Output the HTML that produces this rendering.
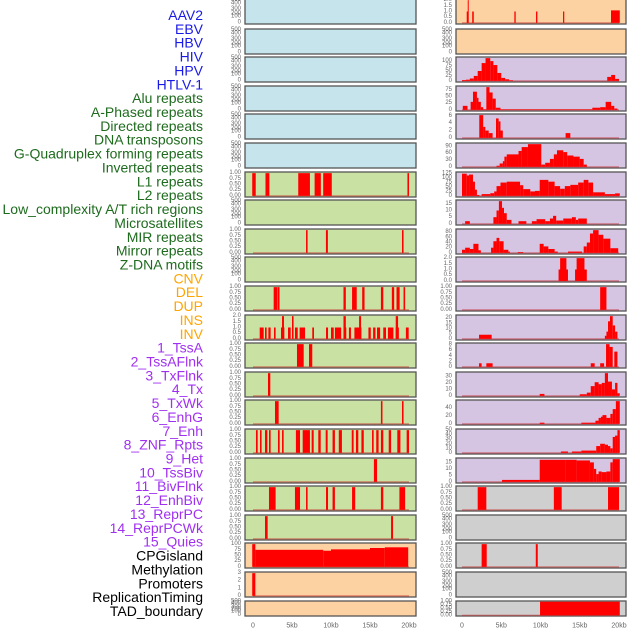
<!DOCTYPE html>
<html><head><meta charset="utf-8"><style>
body{margin:0;background:#fff;}
svg{display:block;font-family:"Liberation Sans",sans-serif;}
</style></head><body>
<svg id="chart" width="630" height="630" viewBox="0 0 630 630" xmlns="http://www.w3.org/2000/svg"></svg>
<script>
const NS="http://www.w3.org/2000/svg";
const trackNames=["AAV2","EBV","HBV","HIV","HPV","HTLV-1","Alu repeats","A-Phased repeats","Directed repeats","DNA transposons","G-Quadruplex forming repeats","Inverted repeats","L1 repeats","L2 repeats","Low_complexity A/T rich regions","Microsatellites","MIR repeats","Mirror repeats","Z-DNA motifs","CNV","DEL","DUP","INS","INV","1_TssA","2_TssAFlnk","3_TxFlnk","4_Tx","5_TxWk","6_EnhG","7_Enh","8_ZNF_Rpts","9_Het","10_TssBiv","11_BivFlnk","12_EnhBiv","13_ReprPC","14_ReprPCWk","15_Quies","CPGisland","Methylation","Promoters","ReplicationTiming","TAD_boundary"];
const labelColors=["#1a1ae6","#1a1ae6","#1a1ae6","#1a1ae6","#1a1ae6","#1a1ae6","#1e6b1e","#1e6b1e","#1e6b1e","#1e6b1e","#1e6b1e","#1e6b1e","#1e6b1e","#1e6b1e","#1e6b1e","#1e6b1e","#1e6b1e","#1e6b1e","#1e6b1e","#ffa500","#ffa500","#ffa500","#ffa500","#ffa500","#a030f0","#a030f0","#a030f0","#a030f0","#a030f0","#a030f0","#a030f0","#a030f0","#a030f0","#a030f0","#a030f0","#a030f0","#a030f0","#a030f0","#a030f0","#000","#000","#000","#000","#000"];
const xTickLabels=["0","5kb","10kb","15kb","20kb"];
const xTickValues=[0,5,10,15,20];
// per-panel y-axis: "E" empty, "B" binary, or max data value D
const panelMax=["E","E","E","E","E","E","B","E","B","E","B",2,"B","B","B","B","B","B","B",100,3,"E",
2,"E",115,85,6.2,100,128,17,88,2,"B",22,8.2,35,57,50,17.5,"B","E","B","E","B"];
const panelTicks=[[],[],[],[],[],[],[],[],[],[],[],[0,0.5,1,1.5,2],[],[],[],[],[],[],[],[0,25,50,75,100],[0,1,2,3],[],
[0,0.5,1,1.5,2],[],[0,25,50,75,100],[0,25,50,75],[0,2,4,6],[0,30,60,90],[0,25,50,75,100,125],[0,5,10,15],[0,20,40,60,80],[0,0.5,1,1.5,2],[],[0,5,10,15,20],[0,2,4,6,8],[0,10,20,30],[0,20,40],[0,10,20,30,40,50],[0,5,10,15],[],[],[],[],[]];
// segments per panel: [startKb, endKb, value]
const segs=[
[],[],[],[],[],[],
[[-0.1,0.35,1],[1.6,2.1,1],[5.8,7.3,1],[7.9,8.7,1],[9.0,10.1,1],[19.8,20.0,1]],
[],
[[6.8,7.0,1],[9.35,9.6,1],[19.1,19.3,1]],
[],
[[2.65,3.1,1],[3.15,3.4,1],[11.6,11.9,1],[12.7,13.3,1],[14.0,14.3,1],[16.4,16.7,1],[17.8,18.1,1],[18.4,18.8,1],[19.3,19.5,1]],
[[0.86,1.37,1],[1.54,1.75,1],[1.97,2.26,1],[2.69,2.9,1],[3.59,4.02,1],[4.49,4.83,1],[5.38,5.73,1],[5.98,6.67,1],[7.6,7.82,1],[9.36,9.62,1],[10.0,10.35,1],[10.5,11.3,1],[11.7,11.96,1],[12.3,12.56,1],[13.0,13.9,1],[14.8,15.1,1],[15.4,15.7,1],[15.9,16.3,1],[16.7,17.05,1],[17.3,18.0,1],[18.3,18.7,1],[19.6,19.96,1],[3.72,3.97,2],[5.0,5.2,2],[11.6,11.9,2],[13.6,13.85,2],[18.3,18.6,2]],
[[5.64,6.5,1],[7.18,7.6,1]],
[[1.92,2.22,1]],
[[2.82,3.29,1],[16.4,16.6,1],[19.1,19.3,1]],
[[0.38,0.6,1],[0.9,1.1,1],[1.54,1.84,1],[2.05,2.26,1],[3.2,3.42,1],[3.72,3.93,1],[5.5,6.03,1],[6.37,7.3,1],[7.52,7.78,1],[8.37,8.68,1],[9.32,9.57,1],[10.2,10.5,1],[11.0,11.4,1],[12.66,12.9,1],[13.2,13.5,1],[13.9,14.2,1],[15.26,15.47,1],[15.8,16.1,1],[16.4,16.7,1],[17.4,17.7,1],[18.5,18.9,1],[19.7,20.0,1]],
[[15.5,15.9,1]],
[[2.05,2.9,1],[5.38,6.03,1],[6.8,7.0,1],[9.36,9.62,1],[10.2,10.5,1],[12.7,13.1,1],[16.4,16.7,1],[18.77,19.5,1]],
[[1.54,1.88,1],[17.7,17.95,1]],
[[-0.1,0.3,100],[0.3,9.0,75],[9.0,10.0,71],[10.0,15.0,77],[15.0,16.9,83],[16.9,19.9,86]],
[[-0.1,0.3,3]],
[],
[[0.6,0.8,1],[0.73,0.85,2],[1.3,1.5,1],[6.67,6.84,1],[9.43,9.6,1],[12.87,13.03,1],[18.98,20.1,1.1]],
[],
[[0,0.5,4],[0.5,1,6],[1,1.5,12],[1.5,2,25],[2,2.5,50],[2.5,3,90],[3,3.6,115],[3.6,4,100],[4,4.5,80],[4.5,5,40],[5,5.5,15],[5.5,6,8],[6,6.5,3],[18.5,19,20],[19,19.5,30],[19.5,20,10]],
[[0.1,0.7,15],[1.1,1.4,30],[1.4,1.9,68],[1.9,2.1,45],[2.1,2.4,30],[2.4,2.7,10],[2.7,3.1,2],[3.1,3.5,85],[3.5,3.9,65],[3.9,4.3,42],[4.3,4.9,8],[4.9,16.6,2],[16.6,17.6,8],[17.6,18.3,10],[18.3,19.0,30],[19.0,19.4,15],[19.4,19.8,5]],
[[2.2,2.7,6.2],[2.7,2.97,3],[2.97,3.4,2],[3.4,3.9,1.3],[4.33,4.67,5.3],[4.67,4.9,4.5],[4.9,5.2,2],[13.2,13.8,1.3]],
[[4.4,4.8,5],[4.8,5.2,15],[5.2,5.4,25],[5.4,5.7,45],[5.7,7.2,55],[7.2,7.6,70],[7.6,8.4,87],[8.4,10.1,100],[10.1,10.6,10],[10.6,11.2,18],[11.2,11.7,35],[11.7,12.1,55],[12.1,12.9,73],[12.9,13.4,65],[13.4,14.2,50],[14.2,15.0,45],[15.0,15.5,35],[15.5,15.9,10]],
[[0,0.6,125],[0.6,0.9,115],[0.9,1.4,120],[1.4,1.65,80],[1.65,1.9,35],[1.9,2.2,5],[2.5,3.6,10],[3.6,4.1,15],[4.1,4.4,25],[4.4,4.9,55],[4.9,5.7,75],[5.7,7.4,80],[7.4,7.8,60],[7.8,8.7,38],[8.7,9.3,25],[9.3,9.9,28],[9.9,11.0,90],[11.0,11.8,80],[11.8,12.5,55],[12.5,13.1,40],[13.1,13.8,55],[13.8,14.8,62],[14.8,15.5,75],[15.5,16.1,90],[16.1,16.7,75],[16.7,18.2,20],[18.2,19.5,10],[19.5,20.1,14]],
[[0.4,1.0,2],[4.0,4.4,5],[4.4,4.7,10],[4.7,5.1,17],[5.1,5.35,12],[5.35,5.7,8],[5.7,6.3,3],[7.2,8.2,2],[8.9,9.5,2],[9.5,10.6,3.5],[10.6,11.2,2],[11.2,11.6,4],[11.6,12.0,6],[12.0,12.9,2.5],[12.9,14.0,4],[14.0,14.5,5],[14.5,14.8,3],[14.8,15.9,4]],
[[0,0.4,12],[0.4,1.0,20],[1.0,1.45,15],[1.45,2.1,35],[2.1,2.4,10],[3.7,4.0,20],[4.0,4.4,45],[4.4,4.75,58],[4.75,5.3,45],[5.3,5.9,12],[5.9,6.1,5],[7.1,7.8,3],[9.9,10.4,35],[10.4,11.0,25],[11.0,11.8,15],[11.8,12.2,5],[13.5,15.3,5],[15.5,15.9,25],[15.9,16.3,40],[16.3,16.7,75],[16.7,17.4,88],[17.4,18.0,70],[18.0,18.9,55],[18.9,19.9,18]],
[[12.3,13.5,1],[12.5,13.3,2],[14.4,15.9,1],[14.6,15.6,2]],
[[17.6,18.4,1]],
[[2.17,3.78,4],[18.2,18.4,3],[18.4,18.6,7],[18.6,18.85,17],[18.85,19.2,22],[19.2,19.5,13],[19.5,19.8,7]],
[[2.17,2.5,1.3],[3.1,3.9,1.3],[16.4,16.9,1.3],[17.6,18.1,1.3],[18.35,18.8,8.2],[18.8,19.2,7.2],[19.4,19.8,5.5]],
[[9.9,10.5,3],[15.0,15.9,2.5],[15.9,16.4,5],[16.4,16.9,15],[16.9,17.4,21],[17.4,17.8,18],[17.8,18.2,20],[18.2,18.6,35],[18.6,19.1,22],[19.1,19.5,10],[19.5,19.8,20],[19.8,20.1,4]],
[[9.9,10.5,3],[15.2,17.0,3],[17.0,17.4,8],[17.4,17.7,15],[17.7,17.9,18],[17.9,18.4,22],[18.4,18.9,15],[18.9,19.2,25],[19.2,19.6,37],[19.6,20.1,57]],
[[12.6,13.5,3],[14.0,15.2,3],[15.2,17.1,5],[17.1,17.6,15],[17.6,18.2,20],[18.2,18.6,18],[18.6,18.9,15],[18.9,19.2,10],[19.2,19.5,35],[19.5,19.8,38],[19.8,20.1,50]],
[[5.1,9.9,1.5],[9.9,13.2,17],[13.2,14.6,17],[14.6,16.3,16.5],[16.3,16.8,15],[16.8,17.1,10],[17.1,17.4,6],[17.4,17.8,8],[17.8,18.4,7.5],[18.4,18.9,8],[18.9,19.2,15],[19.2,20.1,17.5]],
[[2.0,3.1,1],[11.7,12.7,1],[18.6,20.0,1]],
[],
[[2.5,3.15,1],[9.4,9.65,1]],
[],
[[9.94,20.1,1]]
];
const bgColors={blue:"#c6e4ec",green:"#c9e1a3",orange:"#fdd2a3",purple:"#d5c5e3",grey:"#cfcfcf"};
function panelBg(i){if(i<6)return bgColors.blue;if(i<19)return bgColors.green;if(i<24)return bgColors.orange;if(i<39)return bgColors.purple;return bgColors.grey;}
const svg=document.getElementById("chart");
function mk(tag,attrs){const e=document.createElementNS(NS,tag);for(const k in attrs)e.setAttribute(k,attrs[k]);svg.appendChild(e);return e;}
// labels
trackNames.forEach((n,i)=>{
  const t=mk("text",{x:203,y:15+i*13.86,"text-anchor":"end","dominant-baseline":"central","font-size":"14",fill:labelColors[i]});
  
  
  t.textContent=n;
});
const cols=[{x0:245,x1:416,z:253,s:7.8,lx:241},{x0:456,x1:626,z:462,s:7.85,lx:452}];
const emptyOff=[[0,23.3],[100,17.7],[200,14.3],[300,10],[400,4.3],[500,1]];
function fmt(v,ticks){if(ticks==="B")return v.toFixed(2);if(ticks.some(t=>t%1!==0))return v.toFixed(1);return String(v);}
for(let i=0;i<44;i++){
  const c=cols[i<22?0:1], r=i%22;
  let top=Math.round(r*28.6), h=25;
  if(r===0){top=-1;}
  if(r===21){h=15;}
  const bottom=top+h;
  const bg=mk("rect",{x:c.x0,y:top,width:c.x1-c.x0,height:h,fill:panelBg(i),stroke:"#555","stroke-width":1.3});
  
  
  const xs=v=>c.z+v*c.s;
  const m=panelMax[i];
  if(m==="E"){
    const k=h/25;
    emptyOff.forEach(([v,o])=>{
      const t=mk("text",{x:c.lx,y:top+o*k,"text-anchor":"end","dominant-baseline":"central","font-size":"6",fill:"#666"});
      
      
      t.textContent=String(v);
    });
    continue;
  }
  const D=(m==="B")?1:m;
  const ys=v=>bottom-(v+0.05*D)/(1.1*D)*h;
  const ticks=(m==="B")?[0,0.25,0.5,0.75,1]:panelTicks[i];
  ticks.forEach(v=>{
    const t=mk("text",{x:c.lx,y:ys(v),"text-anchor":"end","dominant-baseline":"central","font-size":"6",fill:"#666"});
    
    
    t.textContent=fmt(v,m==="B"?"B":ticks);
  });
  const bl=mk("line",{x1:xs(0),x2:xs(20),y1:ys(0),y2:ys(0),stroke:"rgba(200,40,40,0.45)","stroke-width":1.5});
  
  
  segs[i].forEach(([a,b,v])=>{
    const y=ys(v);
    const br=mk("rect",{x:xs(a),y:y,width:Math.max(1,xs(b)-xs(a)),height:ys(0)-y,fill:"#ff0000"});
    
    
  });
}
// x-axis labels
cols.forEach(c=>{
  xTickValues.forEach((v,j)=>{
    const t=mk("text",{x:c.z+v*c.s,y:626,"text-anchor":"middle","dominant-baseline":"central","font-size":"7",fill:"#666"});
    
    
    t.textContent=xTickLabels[j];
  });
});
</script>
</body></html>
